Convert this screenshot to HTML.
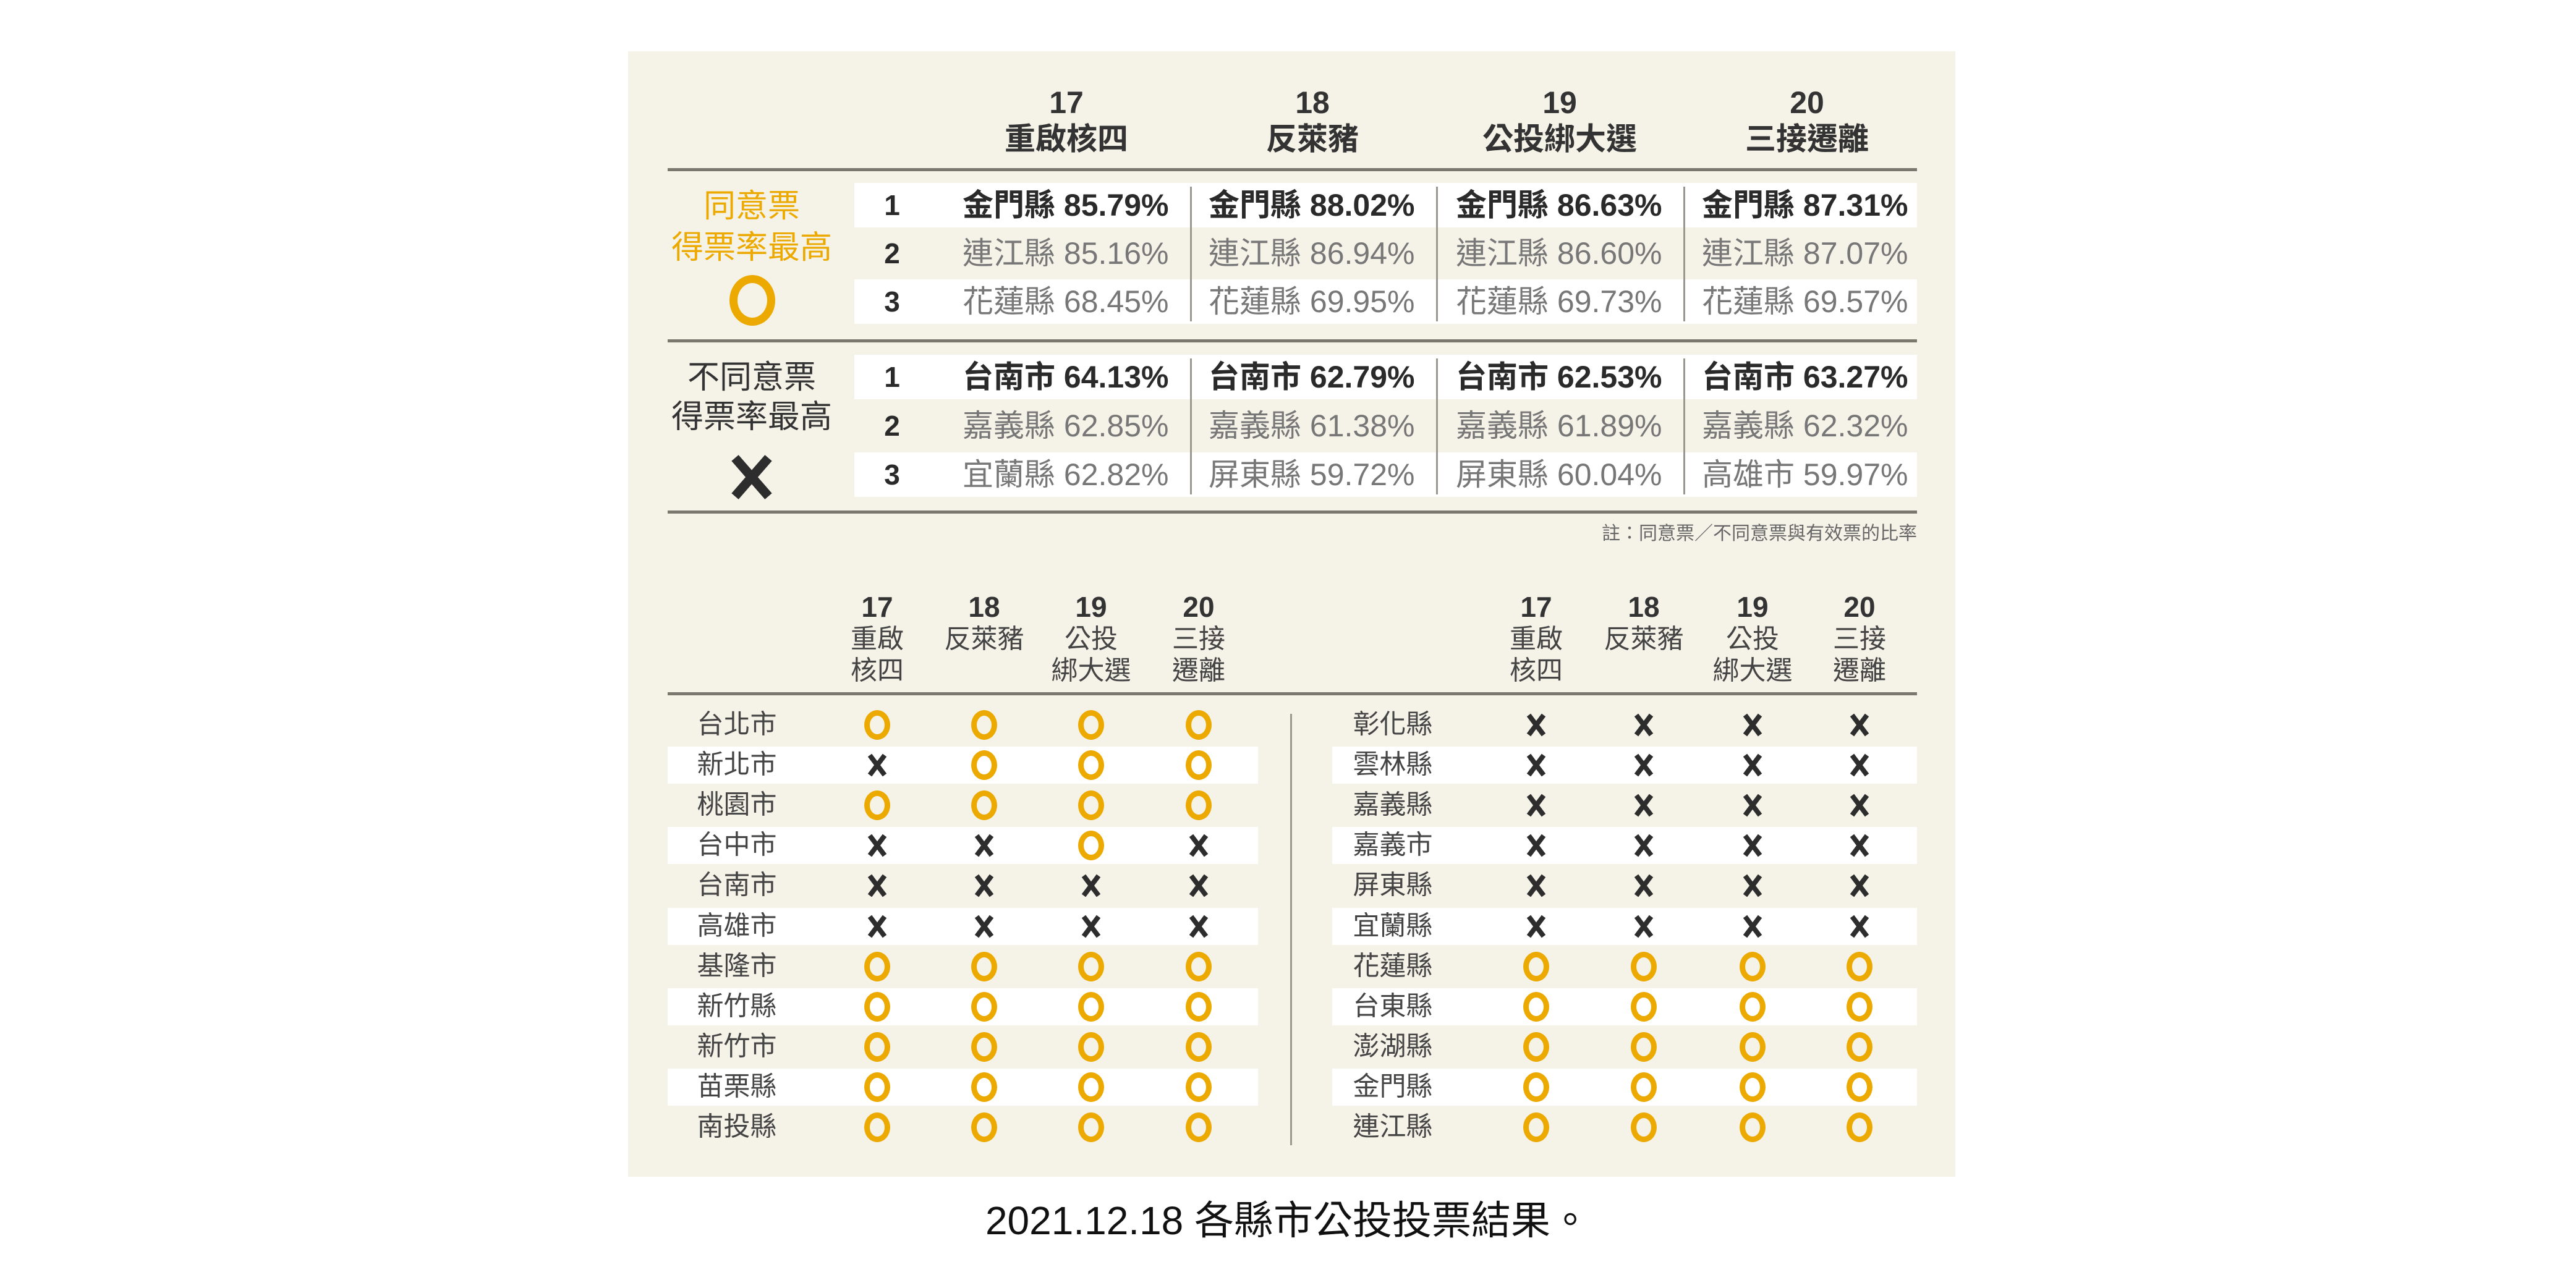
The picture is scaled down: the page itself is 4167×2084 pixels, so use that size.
<!DOCTYPE html>
<html><head><meta charset="utf-8">
<style>
html,body{margin:0;padding:0;background:#fff;}
body{width:4167px;height:2084px;position:relative;overflow:hidden;font-family:"Liberation Sans","Noto Sans CJK TC",sans-serif;}
.a{position:absolute;}
.panel{left:1016px;top:83px;width:2147px;height:1821px;background:#f5f2e8;}
.c{position:absolute;transform:translate(-50%,-50%);white-space:nowrap;text-align:center;line-height:1;}
.l{position:absolute;transform:translateY(-50%);white-space:nowrap;line-height:1;}
.rule{position:absolute;height:5px;background:#7a776e;}
.band{position:absolute;background:#fff;}
.hd{font-weight:bold;color:#333;font-size:50px;}
.dt{font-size:50px;color:#777;}
.dt.b{font-weight:bold;color:#2a2a2a;}
.rk{font-size:46px;font-weight:bold;color:#2a2a2a;}
.sep{position:absolute;width:3px;background:#9a978e;}
.ring{position:absolute;width:24px;height:30px;border:9px solid #eca900;border-radius:50%;transform:translate(-50%,-50%);}
.x{position:absolute;transform:translate(-50%,-50%);}
.nm{font-size:43px;color:#444;}
.sh{font-size:43px;color:#444;}
.sn{font-size:46px;font-weight:bold;color:#333;}
</style></head><body>
<div class="a panel"></div>
<div id="root"></div>
<script>
var h='';
function add(s){h+=s;}
var tc=[1725,2123,2523,2923],tn=['重啟核四','反萊豬','公投綁大選','三接遷離'],nums=['17','18','19','20'];
for(var i=0;i<4;i++){add('<div class="c hd" style="left:'+tc[i]+'px;top:166px">'+nums[i]+'</div>');add('<div class="c hd" style="left:'+tc[i]+'px;top:225px">'+tn[i]+'</div>');}
add('<div class="rule" style="left:1080px;top:272px;width:2021px"></div>');
add('<div class="rule" style="left:1080px;top:549px;width:2021px"></div>');
add('<div class="rule" style="left:1080px;top:826px;width:2021px"></div>');
var g1=[['金門縣 85.79%','連江縣 85.16%','花蓮縣 68.45%'],['金門縣 88.02%','連江縣 86.94%','花蓮縣 69.95%'],['金門縣 86.63%','連江縣 86.60%','花蓮縣 69.73%'],['金門縣 87.31%','連江縣 87.07%','花蓮縣 69.57%']];
var g2=[['台南市 64.13%','嘉義縣 62.85%','宜蘭縣 62.82%'],['台南市 62.79%','嘉義縣 61.38%','屏東縣 59.72%'],['台南市 62.53%','嘉義縣 61.89%','屏東縣 60.04%'],['台南市 63.27%','嘉義縣 62.32%','高雄市 59.97%']];
var colL=[1557,1955,2355,2753];
function grp(ys,data){
 add('<div class="band" style="left:1382px;top:'+(ys[0]-36)+'px;width:1719px;height:72px"></div>');
 add('<div class="band" style="left:1382px;top:'+(ys[2]-36)+'px;width:1719px;height:72px"></div>');
 for(var s=0;s<3;s++)add('<div class="sep" style="left:'+[1925,2323,2723][s]+'px;top:'+(ys[0]-30)+'px;height:'+(ys[2]-ys[0]+62)+'px"></div>');
 for(var r=0;r<3;r++){add('<div class="c rk" style="left:1443px;top:'+ys[r]+'px">'+(r+1)+'</div>');
  for(var i=0;i<4;i++)add('<div class="l dt'+(r==0?' b':'')+'" style="left:'+colL[i]+'px;top:'+ys[r]+'px">'+data[i][r]+'</div>');}
}
grp([332,410,488],g1);grp([610,689,768],g2);
add('<div class="c" style="left:1216px;top:334px;font-size:52px;color:#eca900">同意票</div>');
add('<div class="c" style="left:1216px;top:401px;font-size:52px;color:#eca900">得票率最高</div>');
add('<div class="a" style="left:1180px;top:445px;width:48px;height:56px;border:13px solid #eca900;border-radius:50%"></div>');
add('<div class="c" style="left:1216px;top:611px;font-size:52px;color:#333">不同意票</div>');
add('<div class="c" style="left:1216px;top:675px;font-size:52px;color:#333">得票率最高</div>');
add('<svg class="x" style="left:1216px;top:772px" width="70" height="74" viewBox="0 0 70 74"><path d="M8 6 L62 68 M62 6 L8 68" stroke="#2d2d2d" stroke-width="15" stroke-linecap="butt"/></svg>');
add('<div class="l" style="right:1066px;top:864px;font-size:30px;color:#666">註：同意票／不同意票與有效票的比率</div>');
var lc=[1419,1592,1765,1939],rc=[2485,2659,2835,3008];
var l1=['重啟','反萊豬','公投','三接'],l2=['核四','','綁大選','遷離'];
[lc,rc].forEach(function(cs){for(var i=0;i<4;i++){add('<div class="c sn" style="left:'+cs[i]+'px;top:982px">'+nums[i]+'</div>');add('<div class="c sh" style="left:'+cs[i]+'px;top:1035px">'+l1[i]+'</div>');if(l2[i])add('<div class="c sh" style="left:'+cs[i]+'px;top:1086px">'+l2[i]+'</div>');}});
add('<div class="rule" style="left:1080px;top:1120px;width:2021px"></div>');
add('<div class="sep" style="left:2087px;top:1155px;height:698px"></div>');
var ln=['台北市','新北市','桃園市','台中市','台南市','高雄市','基隆市','新竹縣','新竹市','苗栗縣','南投縣'];
var rn=['彰化縣','雲林縣','嘉義縣','嘉義市','屏東縣','宜蘭縣','花蓮縣','台東縣','澎湖縣','金門縣','連江縣'];
var lv=['OOOO','XOOO','OOOO','XXOX','XXXX','XXXX','OOOO','OOOO','OOOO','OOOO','OOOO'];
var rv=['XXXX','XXXX','XXXX','XXXX','XXXX','XXXX','OOOO','OOOO','OOOO','OOOO','OOOO'];
var xs='<svg width="34" height="40" viewBox="0 0 34 40"><path d="M5 4 L29 36 M29 4 L5 36" stroke="#2d2d2d" stroke-width="8"/></svg>';
for(var r=0;r<11;r++){var y=Math.round(1173+r*65.1);
 if(r%2==1){add('<div class="band" style="left:1080px;top:'+(y-30)+'px;width:955px;height:60px"></div>');add('<div class="band" style="left:2155px;top:'+(y-30)+'px;width:946px;height:60px"></div>');}
 add('<div class="c nm" style="left:1192px;top:'+y+'px">'+ln[r]+'</div>');
 add('<div class="c nm" style="left:2253px;top:'+y+'px">'+rn[r]+'</div>');
 for(var i=0;i<4;i++){
  [[lc,lv],[rc,rv]].forEach(function(p){var v=p[1][r][i],x=p[0][i];
   if(v=='O')add('<div class="ring" style="left:'+x+'px;top:'+y+'px"></div>');
   else add('<div class="x" style="left:'+x+'px;top:'+y+'px;width:34px;height:40px">'+xs+'</div>');});
 }
}
add('<div class="c" style="left:2083px;top:1975px;font-size:64px;color:#111">2021.12.18 各縣市公投投票結果。</div>');
document.getElementById('root').innerHTML=h;
</script>
</body></html>
